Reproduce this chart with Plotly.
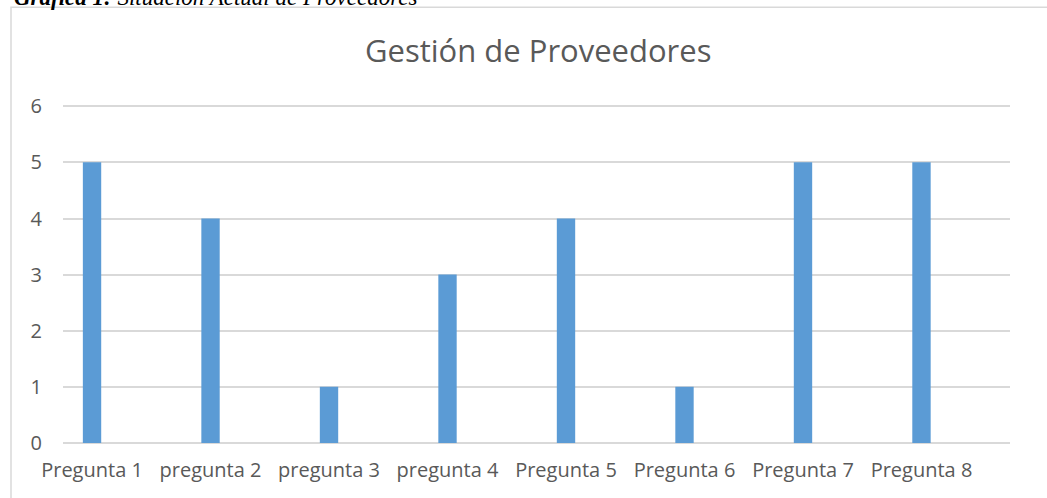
import plotly.graph_objects as go

categories = ["Pregunta 1", "pregunta 2", "pregunta 3", "pregunta 4",
              "Pregunta 5", "Pregunta 6", "Pregunta 7", "Pregunta 8"]
values = [5, 4, 1, 3, 4, 1, 5, 5]
y_ticks = [0, 1, 2, 3, 4, 5, 6]

W, H = 1047, 498
Y_TOP = 6.04
unit = (443 - 106) / 6
L, R, B = 63, 1010, 443
T = B - Y_TOP * unit

def px_x(x):
    return (x - L) / (R - L)

def px_y(y):
    return (B - y) / (B - T)

fig = go.Figure()
fig.add_trace(go.Bar(x=categories, y=values, marker_color="#5b9bd5",
                     marker_line_width=0, width=0.155))

fig.update_layout(
    width=W, height=H,
    margin=dict(l=L, r=W - R, t=T, b=H - B, autoexpand=False),
    paper_bgcolor="white", plot_bgcolor="white",
    showlegend=False,
    font=dict(family="Open Sans", color="#595959", size=20),
    xaxis=dict(type="category", range=[-0.245, 7.747], showgrid=False,
               showline=False, zeroline=False, ticks="",
               tickfont=dict(size=20, color="#595959"), ticklabelstandoff=13),
    yaxis=dict(range=[0, Y_TOP], tickvals=y_ticks, showgrid=True,
               gridcolor="#d9d9d9", gridwidth=1.5, zeroline=True,
               zerolinecolor="#d9d9d9", zerolinewidth=1.5, showline=False,
               ticks="", tickfont=dict(size=20, color="#595959"),
               ticklabelstandoff=20),
    shapes=[dict(type="rect", xref="paper", yref="paper",
                 x0=px_x(11), x1=px_x(1070), y0=px_y(7), y1=px_y(520),
                 line=dict(color="#d9d9d9", width=1.5), layer="below")],
    annotations=[
        dict(text="Gestión de Proveedores", xref="paper", yref="paper",
             x=px_x(538), y=px_y(50), xanchor="center", yanchor="middle",
             showarrow=False, font=dict(family="Open Sans", size=31, color="#595959")),
        dict(text="<b><i>Gráfica 1:</i></b><i> Situación Actual de Proveedores</i>",
             xref="paper", yref="paper", x=px_x(12), y=px_y(-3),
             xanchor="left", yanchor="middle", showarrow=False,
             font=dict(family="Liberation Serif", size=23, color="#000000")),
    ],
)

fig.write_html("out.html", config={"displayModeBar": False},
               post_script="document.body.style.margin='0';document.body.style.overflow='hidden';")
